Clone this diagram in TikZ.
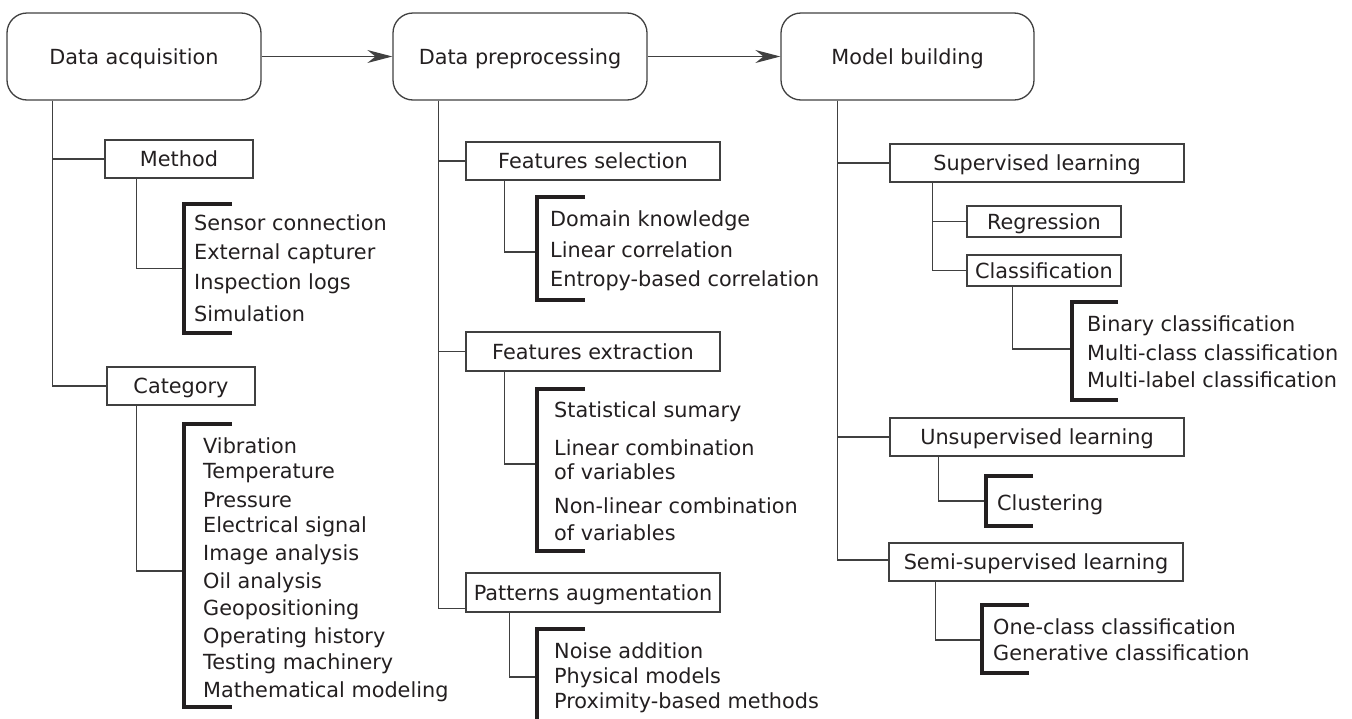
\documentclass[tikz,border=0pt]{standalone}
\usepackage{fontspec}
\setmainfont{DejaVu Sans}
\usetikzlibrary{arrows.meta}
\definecolor{ink}{HTML}{231F20}
\definecolor{wire}{HTML}{404040}

\begin{document}
\begin{tikzpicture}[x=1pt,y=-1pt,
  font=\fontsize{20.8}{25}\selectfont, text=ink,
  stage/.style={draw=wire, line width=1.3pt, rounded corners=20pt, text height=15.2pt, text depth=0pt, minimum height=87pt},
  group/.style={draw=wire, line width=1.3pt, text height=15.2pt, text depth=0pt, inner sep=0pt},
  entry/.style={anchor=west, inner sep=0pt, text height=15.2pt, text depth=0pt},
  bracketbox/.style={inner sep=0pt},
  bracketline/.style={draw=ink, line width=4pt},
  conn/.style={draw=wire, line width=1.3pt},
  flow/.style={conn, -{Stealth[length=25pt,width=13pt]}}]

\useasboundingbox (0,0) rectangle (1352,718);
\clip (0,0) rectangle (1352,718);

\node[stage, minimum width=254pt] (acq) at (134,56.5) {Data acquisition};
\node[stage, minimum width=254pt] (prep) at (520,56.5) {Data preprocessing};
\node[stage, minimum width=253pt] (model) at (907.5,56.5) {Model building};

\draw[flow] (acq) -- (prep);
\draw[flow] (prep) -- (model);

\node[group, minimum width=148pt, minimum height=38pt] (method) at (179,159) {Method};
\node[group, minimum width=148pt, minimum height=38pt] (category) at (181,386) {Category};

\node[group, minimum width=254pt, minimum height=38pt] (fsel) at (593,161) {Features selection};
\node[group, minimum width=254pt, minimum height=39pt] (fext) at (593,351.5) {Features extraction};
\node[group, minimum width=254pt, minimum height=39pt] (paug) at (593,592.5) {Patterns augmentation};

\node[group, minimum width=294pt, minimum height=38pt] (sup) at (1037,163) {Supervised learning};
\node[group, minimum width=154pt, minimum height=31pt] (reg) at (1044,221.5) {Regression};
\node[group, minimum width=154pt, minimum height=31pt] (cls) at (1044,270.5) {Classification};
\node[group, minimum width=294pt, minimum height=38pt] (unsup) at (1037,437) {Unsupervised learning};
\node[group, minimum width=294pt, minimum height=38pt] (semi) at (1036,562) {Semi-supervised learning};

\node[bracketbox, minimum width=48pt, minimum height=129pt] (mbr) at (208,268.5) {};
\node[bracketbox, minimum width=48pt, minimum height=283pt] (cbr) at (208,565.5) {};
\node[bracketbox, minimum width=48pt, minimum height=103pt] (fsbr) at (561,248.5) {};
\node[bracketbox, minimum width=48pt, minimum height=162pt] (febr) at (561,470) {};
\node[bracketbox, minimum width=48pt, minimum height=100pt] (pabr) at (561,679) {};
\node[bracketbox, minimum width=46pt, minimum height=98pt] (clbr) at (1095,351) {};
\node[bracketbox, minimum width=47pt, minimum height=50pt] (ubr) at (1009.5,501) {};
\node[bracketbox, minimum width=47pt, minimum height=68pt] (sbr) at (1005.5,639) {};

\node[entry] (m1) at (194,223) {Sensor connection};
\node[entry] (m2) at (194,252) {External capturer};
\node[entry] (m3) at (194,282) {Inspection logs};
\node[entry] (m4) at (194,314) {Simulation};

\node[entry] (c1) at (203,446) {Vibration};
\node[entry] (c2) at (203,471) {Temperature};
\node[entry] (c3) at (203,500) {Pressure};
\node[entry] (c4) at (203,525) {Electrical signal};
\node[entry] (c5) at (203,553) {Image analysis};
\node[entry] (c6) at (203,581) {Oil analysis};
\node[entry] (c7) at (203,608) {Geopositioning};
\node[entry] (c8) at (203,636) {Operating history};
\node[entry] (c9) at (203,662) {Testing machinery};
\node[entry] (c10) at (203,690) {Mathematical modeling};

\node[entry] (fs1) at (550,218.5) {Domain knowledge};
\node[entry] (fs2) at (550,250) {Linear correlation};
\node[entry] (fs3) at (550,278.5) {Entropy-based correlation};

\node[entry] (fe1) at (554,409.5) {Statistical sumary};
\node[entry] (fe2) at (554,447.5) {Linear combination};
\node[entry] (fe3) at (554,472) {of variables};
\node[entry] (fe4) at (554,505.5) {Non-linear combination};
\node[entry] (fe5) at (554,532.5) {of variables};

\node[entry] (pa1) at (554,650.5) {Noise addition};
\node[entry] (pa2) at (554,676) {Physical models};
\node[entry] (pa3) at (554,700.5) {Proximity-based methods};

\node[entry] (cl1) at (1087,324) {Binary classification};
\node[entry] (cl2) at (1087,353) {Multi-class classification};
\node[entry] (cl3) at (1087,380) {Multi-label classification};

\node[entry] (u1) at (997,503) {Clustering};

\node[entry] (s1) at (993,627) {One-class classification};
\node[entry] (s2) at (993,652.5) {Generative classification};

\draw[conn] ([xshift=46pt]acq.south west) |- (method.west);
\draw[conn] ([xshift=46pt]acq.south west) |- (category.west);
\draw[conn] ([xshift=32pt]method.south west) |- (mbr.west);
\draw[conn] ([xshift=30pt]category.south west) |- ([yshift=-5.5pt]cbr.west);

\draw[conn] ([xshift=46pt]prep.south west) |- (fsel.west);
\draw[conn] ([xshift=46pt]prep.south west) |- (fext.west);
\draw[conn] ([xshift=46pt]prep.south west) |- ([yshift=4pt]paug.south west);
\draw[conn] ([xshift=39pt]fsel.south west) |- ([yshift=-3.5pt]fsbr.west);
\draw[conn] ([xshift=39pt]fext.south west) |- ([yshift=6pt]febr.west);
\draw[conn] ([xshift=44pt]paug.south west) |- ([yshift=2pt]pabr.west);

\draw[conn] ([xshift=57pt]model.south west) |- (sup.west);
\draw[conn] ([xshift=57pt]model.south west) |- (unsup.west);
\draw[conn] ([xshift=57pt]model.south west) |- ([yshift=2pt]semi.west);
\draw[conn] ([xshift=43pt]sup.south west) |- (reg.west);
\draw[conn] ([xshift=43pt]sup.south west) |- (cls.west);
\draw[conn] ([xshift=46pt]cls.south west) |- ([yshift=2pt]clbr.west);
\draw[conn] ([xshift=49pt]unsup.south west) |- (ubr.west);
\draw[conn] ([xshift=47pt]semi.south west) |- ([yshift=-1pt]sbr.west);

\draw[bracketline] (mbr.north east) -| (mbr.west) |- (mbr.south east);
\draw[bracketline] (cbr.north east) -| (cbr.west) |- (cbr.south east);
\draw[bracketline] (fsbr.north east) -| (fsbr.west) |- (fsbr.south east);
\draw[bracketline] (febr.north east) -| (febr.west) |- (febr.south east);
\draw[bracketline] (pabr.north east) -| (pabr.west) |- (pabr.south east);
\draw[bracketline] (clbr.north east) -| (clbr.west) |- (clbr.south east);
\draw[bracketline] (ubr.north east) -| (ubr.west) |- (ubr.south east);
\draw[bracketline] (sbr.north east) -| (sbr.west) |- (sbr.south east);

\end{tikzpicture}
\end{document}
